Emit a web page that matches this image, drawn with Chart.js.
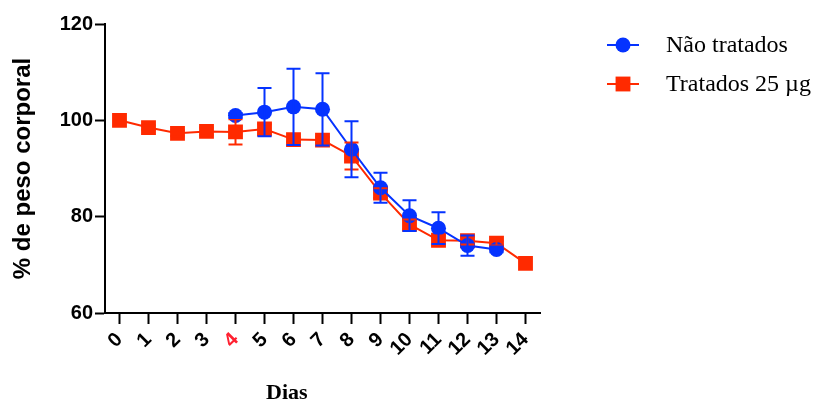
<!DOCTYPE html>
<html>
<head>
<meta charset="utf-8">
<script src="https://cdn.jsdelivr.net/npm/chart.js@4.4.0/dist/chart.umd.min.js"></script>
<style>
  html, body { margin: 0; padding: 0; background: #fff; }
  #wrap { width: 816px; height: 403px; }
</style>
</head>
<body>
<div id="wrap"><canvas id="myChart"></canvas></div>
<script>
const days = ["0", "1", "2", "3", "4", "5", "6", "7", "8", "9", "10", "11", "12", "13", "14"];
const naoTratados = [null, null, null, null, 101.0, 101.7, 102.8, 102.3, 94.0, 86.0, 80.2, 77.6, 74.0, 73.2, null];
const naoTratadosSD = [null, null, null, null, 0.5, 5.0, 7.9, 7.5, 5.8, 3.1, 3.2, 3.3, 2.1, 0.6, null];
const tratados = [100, 98.5, 97.3, 97.7, 97.6, 98.2, 96.0, 95.9, 92.6, 84.9, 78.4, 75.1, 75.0, 74.5, 70.3];
const tratadosSD = [0, 0.5, 0.6, 0.8, 2.6, 1.0, 0.5, 0.6, 2.8, 1.0, 1.0, 1.0, 0.8, 0.5, 0];
const yTicks = [60, 80, 100, 120];

const blue = "#0533ff";
const red = "#ff2a00";

// error bars drawn through the scales
const errorBars = {
  id: "errorBars",
  afterDatasetsDraw(chart) {
    const ctx = chart.ctx;
    const y = chart.scales.y;
    for (let i = chart.data.datasets.length - 1; i >= 0; i--) {
      const ds = chart.data.datasets[i];
      const meta = chart.getDatasetMeta(i);
      ctx.save();
      ctx.strokeStyle = ds.borderColor;
      ctx.lineWidth = 2;
      meta.data.forEach((pt, j) => {
        const v = ds.data[j], sd = ds.sd[j];
        if (v == null || !sd) return;
        const top = y.getPixelForValue(v + sd);
        const bot = y.getPixelForValue(v - sd);
        ctx.beginPath();
        ctx.moveTo(pt.x, top); ctx.lineTo(pt.x, bot);
        ctx.moveTo(pt.x - 7, top); ctx.lineTo(pt.x + 7, top);
        ctx.moveTo(pt.x - 7, bot); ctx.lineTo(pt.x + 7, bot);
        ctx.stroke();
      });
      ctx.restore();
    }
  }
};

// legend on the right + x axis title
const extras = {
  id: "extras",
  afterDraw(chart) {
    const ctx = chart.ctx;
    ctx.save();
    chart.data.datasets.forEach((ds, i) => {
      const cy = 45 + i * 39;
      ctx.strokeStyle = ds.borderColor;
      ctx.lineWidth = 2;
      ctx.beginPath();
      ctx.moveTo(607, cy); ctx.lineTo(639, cy);
      ctx.stroke();
      ctx.fillStyle = ds.pointBackgroundColor;
      Chart.helpers.drawPoint(ctx, { pointStyle: ds.pointStyle, radius: ds.pointRadius, borderWidth: 0, rotation: 0 }, 623, cy);
      ctx.fillStyle = "#000";
      ctx.font = "24px 'Liberation Serif'";
      ctx.textBaseline = "middle";
      ctx.textAlign = "left";
      ctx.fillText(ds.label, 666, cy + 1);
    });
    const x = chart.scales.x;
    ctx.font = "bold 22px 'Liberation Serif'";
    ctx.textAlign = "center";
    ctx.textBaseline = "alphabetic";
    ctx.fillStyle = "#000";
    ctx.fillText("Dias", x.getPixelForDecimal(0.418), 399);
    ctx.restore();
  }
};

let ctx = document.getElementById("myChart");

let chart = new Chart(ctx, {
  type: "line",
  data: {
    labels: days,
    datasets: [
      {
        label: "Não tratados",
        data: naoTratados,
        sd: naoTratadosSD,
        borderColor: blue,
        backgroundColor: blue,
        pointBackgroundColor: blue,
        pointBorderWidth: 0,
        pointStyle: "circle",
        pointRadius: 7.5,
        borderWidth: 2,
        spanGaps: false,
      },
      {
        label: "Tratados 25 µg",
        data: tratados,
        sd: tratadosSD,
        borderColor: red,
        backgroundColor: red,
        pointBackgroundColor: red,
        pointBorderWidth: 0,
        pointStyle: "rect",
        pointRadius: 10.5,
        borderWidth: 2,
      },
    ],
  },
  options: {
    responsive: true,
    maintainAspectRatio: false,
    animation: false,
    events: [],
    layout: { padding: { left: 0, right: 276, top: 24, bottom: 0 } },
    plugins: {
      legend: { display: false },
      tooltip: { enabled: false },
    },
    scales: {
      x: {
        type: "category",
        offset: true,
        grid: { display: true, drawOnChartArea: false, offset: false, tickLength: 11, tickWidth: 2, tickColor: "#000" },
        border: { color: "#000", width: 2 },
        ticks: {
          autoSkip: false,
          minRotation: 45,
          maxRotation: 45,
          padding: 4,
          font: { family: "'Liberation Sans'", size: 20, weight: "bold" },
          color: (c) => (c.tick && c.tick.label === "4" ? "#ff2030" : "#000"),
        },
        afterFit(scale) { scale.height = 90; },
      },
      y: {
        min: 60,
        max: 120,
        afterBuildTicks(scale) { scale.ticks = yTicks.map((v) => ({ value: v })); },
        grid: { display: true, drawOnChartArea: false, tickLength: 10, tickWidth: 2, tickColor: "#000" },
        border: { color: "#000", width: 2 },
        ticks: {
          padding: 2,
          font: { family: "'Liberation Sans'", size: 20, weight: "bold" },
          color: "#000",
        },
        title: {
          display: true,
          text: "% de peso corporal",
          color: "#000",
          font: { family: "'Liberation Sans'", size: 24, weight: "bold", lineHeight: 1 },
          padding: { top: 11, bottom: 0 },
        },
        afterFit(scale) { scale.width = 105; },
      },
    },
  },
  plugins: [errorBars, extras],
});
</script>
</body>
</html>
